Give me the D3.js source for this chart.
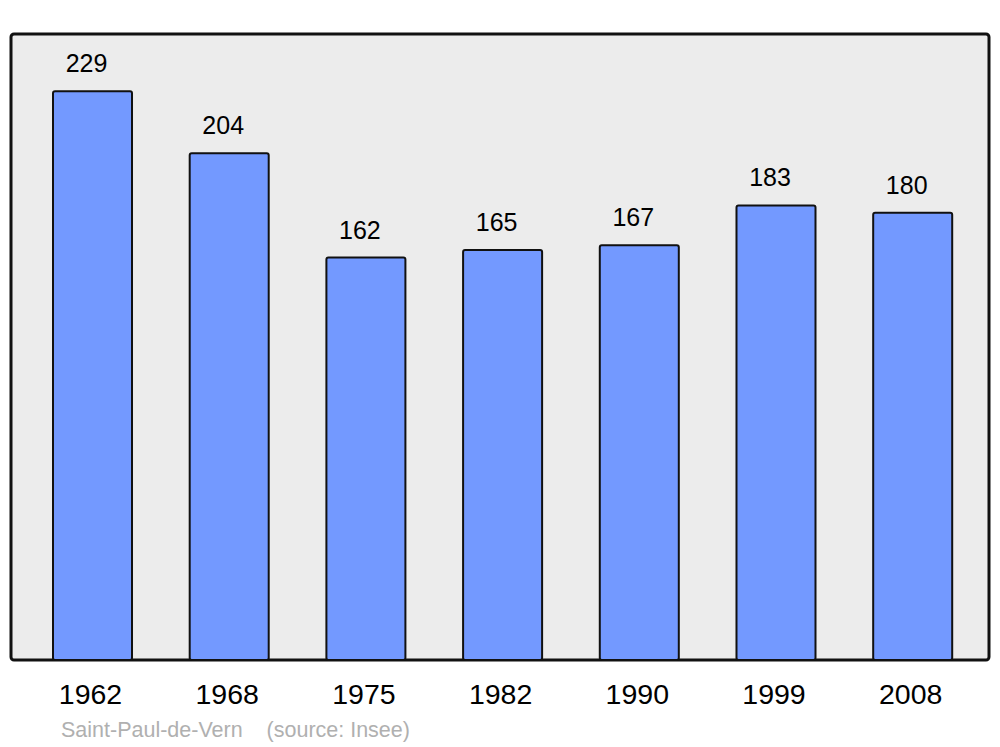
<!DOCTYPE html>
<html>
<head>
<meta charset="utf-8">
<script src="https://cdn.jsdelivr.net/npm/d3@7"></script>
<style>
  html, body { margin: 0; padding: 0; background: #ffffff; }
  svg { display: block; font-family: "Liberation Sans", Arial, sans-serif; }
</style>
</head>
<body>
<svg id="chart" width="1000" height="747"></svg>
<script>
const years = ["1962", "1968", "1975", "1982", "1990", "1999", "2008"];
const population = [229, 204, 162, 165, 167, 183, 180];
const sourceText = "Saint-Paul-de-Vern    (source: Insee)";

const svg = d3.select("#chart");
const panel = { left: 11, top: 34, right: 989, bottom: 660 };

svg.append("rect")
  .attr("x", panel.left).attr("y", panel.top)
  .attr("width", panel.right - panel.left).attr("height", panel.bottom - panel.top)
  .attr("rx", 3).attr("ry", 3)
  .attr("fill", "#ececec").attr("stroke", "#111").attr("stroke-width", 3);

const x = d3.scaleBand().domain(years).range([53, 952.2]).paddingInner(0.422).paddingOuter(0);
const y = d3.scaleLinear().domain([0, 252]).range([panel.bottom, panel.top]);

const data = years.map((yr, i) => ({ year: yr, value: population[i] }));

svg.append("g").selectAll("rect").data(data).enter().append("rect")
  .attr("x", d => x(d.year))
  .attr("y", d => y(d.value))
  .attr("width", x.bandwidth())
  .attr("height", d => panel.bottom - y(d.value))
  .attr("rx", 2).attr("ry", 2)
  .attr("fill", "#7399ff").attr("stroke", "#111").attr("stroke-width", 2);

svg.append("g").selectAll("text").data(data).enter().append("text")
  .attr("x", d => x(d.year) + x.bandwidth() / 2 - 6)
  .attr("y", d => y(d.value) - 19)
  .attr("text-anchor", "middle")
  .attr("font-size", 25)
  .attr("fill", "#000")
  .text(d => d.value);

svg.append("g").selectAll("text").data(years).enter().append("text")
  .attr("x", d => x(d) + x.bandwidth() / 2 - 2)
  .attr("y", 704)
  .attr("text-anchor", "middle")
  .attr("font-size", 28.5)
  .attr("fill", "#000")
  .text(d => d);

svg.append("text")
  .attr("x", 61).attr("y", 737)
  .attr("font-size", 21.5)
  .attr("fill", "#b0b0b0")
  .attr("xml:space", "preserve")
  .style("white-space", "pre")
  .text(sourceText);
</script>
</body>
</html>
